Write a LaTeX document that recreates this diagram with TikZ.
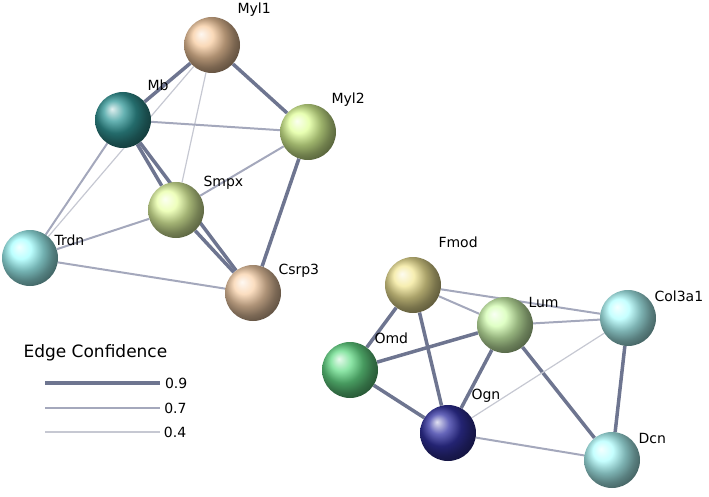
\documentclass[tikz,border=0pt]{standalone}
\usepackage{fontspec}
\setmainfont{DejaVu Sans}
\usepackage{tikz}
\usetikzlibrary{backgrounds}
\definecolor{edgehi}{HTML}{6E7590}
\definecolor{edgemid}{HTML}{A4A8BC}
\definecolor{edgelo}{HTML}{C6C8D2}
\tikzset{prot/.style={circle,minimum size=56pt,inner sep=0pt},
  lab/.style={font=\fontsize{14}{16}\selectfont,anchor=west},
  hi/.style={draw=edgehi,line width=3.5pt},
  mid/.style={draw=edgemid,line width=2pt},
  lo/.style={draw=edgelo,line width=1.2pt}}
\begin{document}
\begin{tikzpicture}[x=1pt,y=-1pt]
\useasboundingbox (0,0) rectangle (709,497);
% proteins
\node[prot,ball color={brown!30!orange!40}] (myl1) at (212,45) {};
\node[prot,ball color={teal!80}] (mb) at (123,120) {};
\node[prot,ball color={green!30!yellow!40}] (myl2) at (308,132) {};
\node[prot,ball color={green!25!yellow!35}] (smpx) at (176,210) {};
\node[prot,ball color={cyan!35}] (trdn) at (30,258) {};
\node[prot,ball color={brown!25!orange!35}] (csrp3) at (253,293) {};
\node[prot,ball color={brown!40!yellow!45}] (fmod) at (413,285) {};
\node[prot,ball color={yellow!45!green!30}] (lum) at (505,325) {};
\node[prot,ball color={cyan!30}] (col3a1) at (628,318) {};
\node[prot,ball color={green!55!teal!60}] (omd) at (350,370) {};
\node[prot,ball color={blue!55!black!80}] (ogn) at (448,433) {};
\node[prot,ball color={cyan!30}] (dcn) at (612,460) {};
% edges
\begin{scope}[on background layer]
\draw[hi] (myl1) -- (myl2);
\draw[hi] (myl1) -- (mb);
\draw[lo] (myl1) -- (smpx);
\draw[lo] (myl1) -- (trdn);
\draw[mid] (mb) -- (myl2);
\draw[hi] (mb) -- (smpx);
\draw[hi] (mb) -- (csrp3);
\draw[mid] (mb) -- (trdn);
\draw[mid] (smpx) -- (myl2);
\draw[hi] (smpx) -- (csrp3);
\draw[mid] (smpx) -- (trdn);
\draw[mid] (trdn) -- (csrp3);
\draw[hi] (myl2) -- (csrp3);
\draw[mid] (fmod) -- (lum);
\draw[mid] (fmod) -- (col3a1);
\draw[hi] (fmod) -- (omd);
\draw[hi] (fmod) -- (ogn);
\draw[hi] (lum) -- (omd);
\draw[hi] (lum) -- (ogn);
\draw[mid] (lum) -- (col3a1);
\draw[hi] (lum) -- (dcn);
\draw[hi] (omd) -- (ogn);
\draw[lo] (ogn) -- (col3a1);
\draw[mid] (ogn) -- (dcn);
\draw[hi] (col3a1) -- (dcn);
\end{scope}
% labels
\node[lab] at (234,10) {Myl1};
\node[lab] at (144,85) {Mb};
\node[lab] at (328,100) {Myl2};
\node[lab] at (200,183) {Smpx};
\node[lab] at (51,240) {Trdn};
\node[lab] at (275,271) {Csrp3};
\node[lab] at (435,242) {Fmod};
\node[lab] at (525,302) {Lum};
\node[lab] at (651,296) {Col3a1};
\node[lab] at (371,338) {Omd};
\node[lab] at (468,396) {Ogn};
\node[lab] at (635,438) {Dcn};
% legend
\node[anchor=west,font=\fontsize{17}{20}\selectfont] (legend) at (20,353) {Edge Confidence};
\coordinate (l1a) at (45,383); \coordinate (l1b) at (160,383);
\coordinate (l2a) at (45,408); \coordinate (l2b) at (160,408);
\coordinate (l3a) at (45,432); \coordinate (l3b) at (160,432);
\draw[hi] (l1a) -- (l1b) node[lab] {0.9};
\draw[mid] (l2a) -- (l2b) node[lab] {0.7};
\draw[lo] (l3a) -- (l3b) node[lab] {0.4};
\end{tikzpicture}
\end{document}
